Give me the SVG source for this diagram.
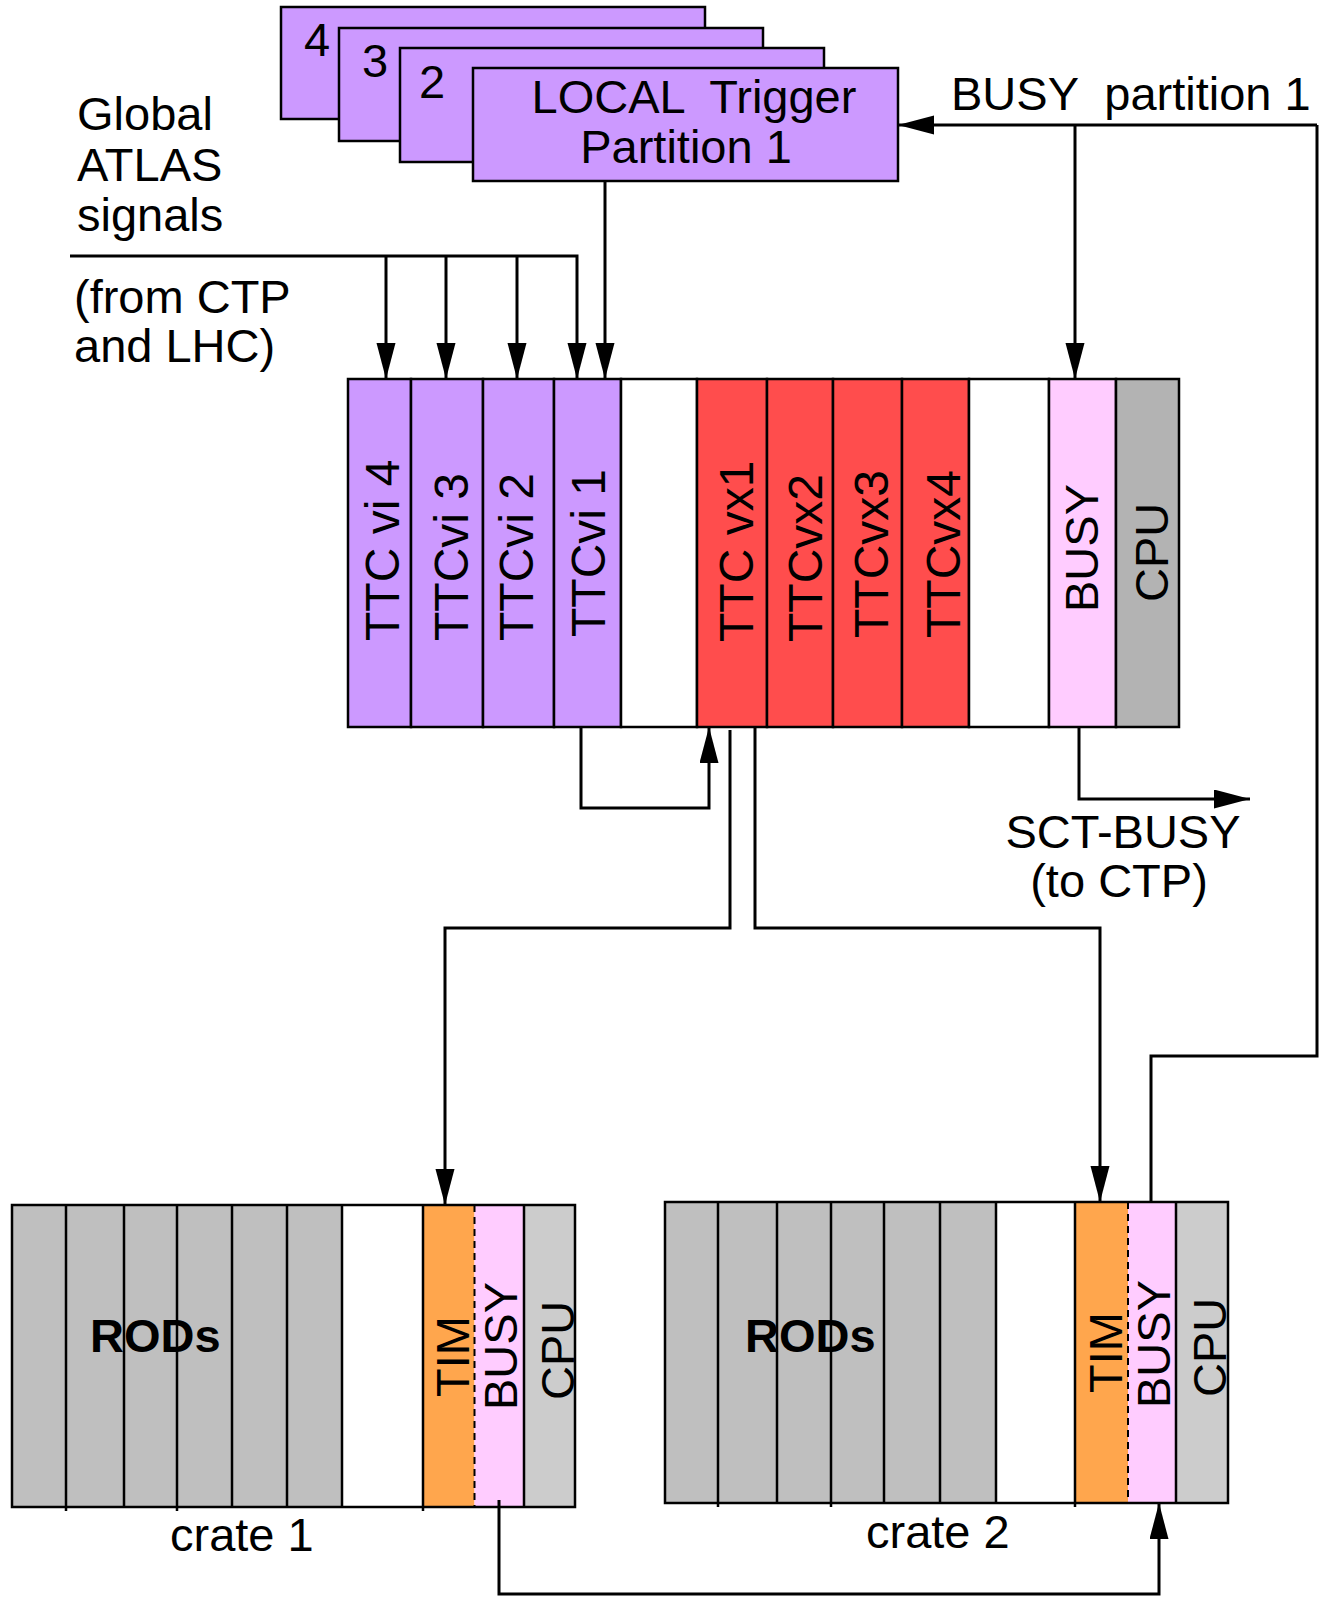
<svg xmlns="http://www.w3.org/2000/svg" width="1322" height="1607" viewBox="0 0 1322 1607">
<defs>
<style>
.t{font-family:"Liberation Sans",Arial,Helvetica,sans-serif;font-size:47px;fill:#000}
.v{font-family:"Liberation Sans",Arial,Helvetica,sans-serif;font-size:48px;fill:#000}
.b{font-family:"Liberation Sans",Arial,Helvetica,sans-serif;font-size:47px;font-weight:bold;fill:#000}
.ln{fill:none;stroke:#000;stroke-width:3}
.bx{stroke:#000;stroke-width:2.5}
.sep{stroke:#000;stroke-width:2.5;fill:none}
.purple{fill:#CC99FF}
.red{fill:#FF4D4D}
.pink{fill:#FFCCFF}
.grey{fill:#B3B3B3}
.rod{fill:#BFBFBF}
.lgrey{fill:#CCCCCC}
.orange{fill:#FFA64D}
.white{fill:#FFFFFF}
</style>
<marker id="ah" markerUnits="userSpaceOnUse" markerWidth="38" markerHeight="20" refX="36" refY="9.5" orient="auto">
<path d="M0,0 L36,9.5 L0,19 z" fill="#000"/>
</marker>
</defs>
<rect width="1322" height="1607" fill="#fff"/>

<!-- Top stacked local trigger boxes -->
<g id="partition4">
<rect class="bx purple" x="281" y="7" width="424" height="112"/>
<text class="t" x="317" y="56" text-anchor="middle" font-size="44">4</text>
</g>
<g id="partition3">
<rect class="bx purple" x="339" y="28" width="424" height="113"/>
<text class="t" x="375" y="77" text-anchor="middle" font-size="44">3</text>
</g>
<g id="partition2">
<rect class="bx purple" x="400" y="48" width="424" height="114"/>
<text class="t" x="432" y="98" text-anchor="middle" font-size="44">2</text>
</g>
<g id="partition1">
<rect class="bx purple" x="473" y="68" width="425" height="113"/>
<text class="t" x="694" y="113" text-anchor="middle" xml:space="preserve">LOCAL  Trigger</text>
<text class="t" x="686" y="163" text-anchor="middle">Partition 1</text>
</g>

<!-- Free labels -->
<g id="global-label">
<text class="t" x="77" y="130">Global</text>
<text class="t" x="77" y="181">ATLAS</text>
<text class="t" x="77" y="231">signals</text>
<text class="t" x="74" y="313">(from CTP</text>
<text class="t" x="74" y="362">and LHC)</text>
</g>
<g id="busy-partition-label">
<text class="t" x="951" y="110" xml:space="preserve">BUSY  partition 1</text>
</g>
<g id="sct-busy-label">
<text class="t" x="1123" y="848" text-anchor="middle">SCT-BUSY</text>
<text class="t" x="1119" y="897" text-anchor="middle">(to CTP)</text>
</g>

<!-- Main TTC crate -->
<g id="ttc-crate">
<rect class="bx purple" x="348" y="379" width="63" height="348"/>
<rect class="bx purple" x="411" y="379" width="72" height="348"/>
<rect class="bx purple" x="483" y="379" width="71" height="348"/>
<rect class="bx purple" x="554" y="379" width="67" height="348"/>
<rect class="bx white" x="621" y="379" width="76" height="348"/>
<rect class="bx red" x="697" y="379" width="70" height="348"/>
<rect class="bx red" x="767" y="379" width="66" height="348"/>
<rect class="bx red" x="833" y="379" width="69" height="348"/>
<rect class="bx red" x="902" y="379" width="67" height="348"/>
<rect class="bx white" x="969" y="379" width="80" height="348"/>
<rect class="bx pink" x="1049" y="379" width="67" height="348"/>
<rect class="bx grey" x="1116" y="379" width="63" height="348"/>
<text class="v" transform="rotate(-90 399 641)" x="399" y="641" xml:space="preserve">TTC vi 4</text>
<text class="v" transform="rotate(-90 468 641)" x="468" y="641">TTCvi 3</text>
<text class="v" transform="rotate(-90 533 641)" x="533" y="641">TTCvi 2</text>
<text class="v" transform="rotate(-90 605 637)" x="605" y="637">TTCvi 1</text>
<text class="v" transform="rotate(-90 753 642)" x="753" y="642" xml:space="preserve">TTC vx1</text>
<text class="v" transform="rotate(-90 822 642)" x="822" y="642">TTCvx2</text>
<text class="v" transform="rotate(-90 888 638)" x="888" y="638">TTCvx3</text>
<text class="v" transform="rotate(-90 960 638)" x="960" y="638">TTCvx4</text>
<text class="t" transform="rotate(-90 1098 612)" x="1098" y="612">BUSY</text>
<text class="t" transform="rotate(-90 1168 602)" x="1168" y="602">CPU</text>
</g>

<!-- Crate 1 -->
<g id="crate1">
<rect class="rod" x="12" y="1205" width="330" height="302"/>
<rect class="white" x="342" y="1205" width="81" height="302"/>
<rect class="orange" x="423" y="1205" width="51.5" height="302"/>
<rect class="pink" x="474.5" y="1205" width="49.5" height="302"/>
<rect class="lgrey" x="524" y="1205" width="51" height="302"/>
<path class="sep" d="M66,1205 V1511 M124,1205 V1507 M177,1205 V1511 M232,1205 V1507 M287,1205 V1507 M342,1205 V1507 M423,1205 V1511 M524,1205 V1507"/>
<line x1="474.5" y1="1205" x2="474.5" y2="1507" stroke="#000" stroke-width="2" stroke-dasharray="7,5"/>
<rect class="sep" x="12" y="1205" width="563" height="302"/>
<text class="b" x="90" y="1352">RODs</text>
<text class="t" transform="rotate(-90 469 1397)" x="469" y="1397">TIM</text>
<text class="t" transform="rotate(-90 517 1410)" x="517" y="1410">BUSY</text>
<text class="t" transform="rotate(-90 574 1400)" x="574" y="1400">CPU</text>
<text class="t" x="170" y="1551" font-size="45">crate 1</text>
</g>

<!-- Crate 2 -->
<g id="crate2">
<rect class="rod" x="665" y="1202" width="331" height="301"/>
<rect class="white" x="996" y="1202" width="79" height="301"/>
<rect class="orange" x="1075" y="1202" width="53" height="301"/>
<rect class="pink" x="1128" y="1202" width="48" height="301"/>
<rect class="lgrey" x="1176" y="1202" width="52" height="301"/>
<path class="sep" d="M718,1202 V1507 M777,1202 V1503 M831,1202 V1507 M884,1202 V1503 M940,1202 V1503 M996,1202 V1503 M1075,1202 V1507 M1176,1202 V1503"/>
<line x1="1128" y1="1202" x2="1128" y2="1503" stroke="#000" stroke-width="2" stroke-dasharray="7,5"/>
<rect class="sep" x="665" y="1202" width="563" height="301"/>
<text class="b" x="745" y="1352">RODs</text>
<text class="t" transform="rotate(-90 1122 1393)" x="1122" y="1393">TIM</text>
<text class="t" transform="rotate(-90 1170 1408)" x="1170" y="1408">BUSY</text>
<text class="t" transform="rotate(-90 1226 1397)" x="1226" y="1397">CPU</text>
<text class="t" x="866" y="1548" font-size="45">crate 2</text>
</g>

<!-- Connectors -->
<g id="connectors">
<path class="ln" d="M70,256 H577 V379" marker-end="url(#ah)"/>
<path class="ln" d="M386,256 V379" marker-end="url(#ah)"/>
<path class="ln" d="M446,256 V379" marker-end="url(#ah)"/>
<path class="ln" d="M517,256 V379" marker-end="url(#ah)"/>
<path class="ln" d="M605,181 V379" marker-end="url(#ah)"/>
<path class="ln" d="M1317,125 H898" marker-end="url(#ah)"/>
<path class="ln" d="M1075,125 V379" marker-end="url(#ah)"/>
<path class="ln" d="M1317,125 V1056 H1151 V1202"/>
<path class="ln" d="M581,727 V808 H709 V727" marker-end="url(#ah)"/>
<path class="ln" d="M730,730 V928 H445 V1205" marker-end="url(#ah)"/>
<path class="ln" d="M755,727 V928 H1100 V1202" marker-end="url(#ah)"/>
<path class="ln" d="M1079,727 V799 H1250" marker-end="url(#ah)"/>
<path class="ln" d="M499,1500 V1594 H1159 V1503" marker-end="url(#ah)"/>
</g>
</svg>
